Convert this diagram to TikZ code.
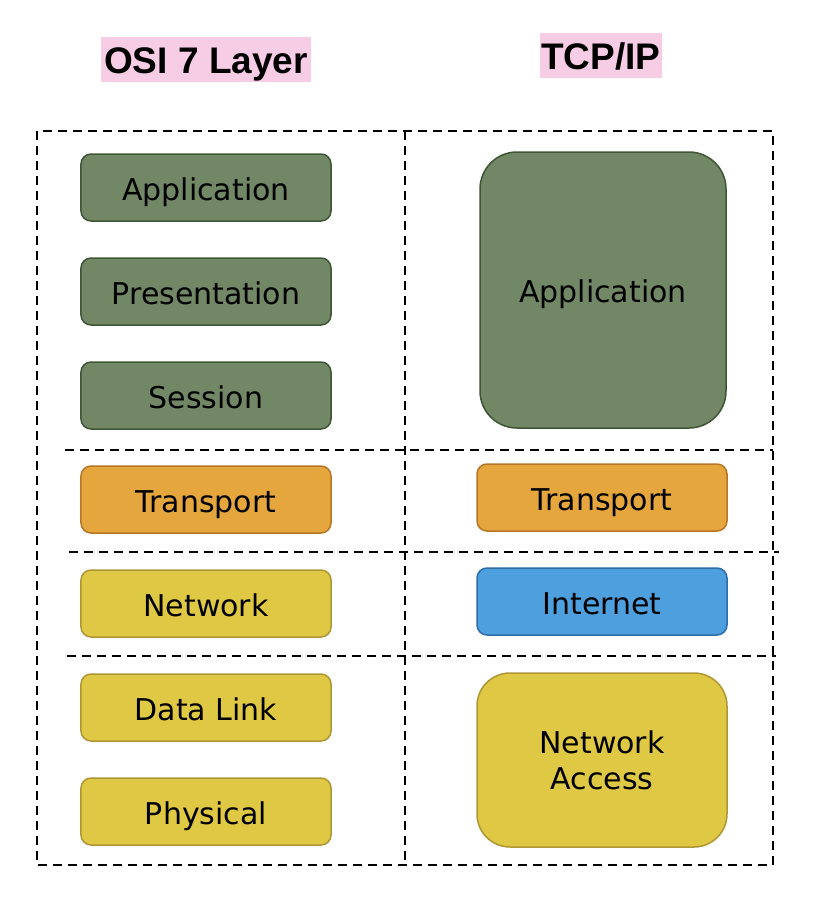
\documentclass[tikz,border=0pt]{standalone}
\usepackage{fontspec}
\setmainfont{DejaVu Sans}
\newfontfamily\titlefont{Liberation Sans}
\definecolor{grfill}{RGB}{114,135,101}
\definecolor{grline}{RGB}{63,86,54}
\definecolor{orfill}{RGB}{229,166,61}
\definecolor{orline}{RGB}{182,118,40}
\definecolor{yefill}{RGB}{223,201,68}
\definecolor{yeline}{RGB}{175,150,53}
\definecolor{blfill}{RGB}{77,159,222}
\definecolor{blline}{RGB}{45,109,168}
\definecolor{titlepink}{RGB}{247,205,230}
\begin{document}
\begin{tikzpicture}[x=1bp,y=-1bp,
  layer/.style={rectangle, rounded corners=10bp, draw, line width=1.5bp,
    minimum width=250bp, minimum height=67bp, inner sep=0pt,
    font=\fontsize{30bp}{36bp}\selectfont, text=black, align=center},
  oneline/.style={text height=31bp, text depth=6bp},
  greenbox/.style={layer, fill=grfill, draw=grline},
  orangebox/.style={layer, fill=orfill, draw=orline},
  yellowbox/.style={layer, fill=yefill, draw=yeline},
  bluebox/.style={layer, fill=blfill, draw=blline},
  titlebox/.style={rectangle, fill=titlepink, inner sep=0pt, minimum height=45bp,
    text height=32bp, text depth=4.5bp,
    font=\titlefont\bfseries\fontsize{37bp}{40bp}\selectfont},
  sep/.style={draw=black, line width=2bp, dash pattern=on 9bp off 6bp}
]
\useasboundingbox (0,0) rectangle (814,902);
\fill[white] (0,0) rectangle (814,902);

% titles
\node[titlebox, minimum width=210bp] (osititle) at (206,59.5) {OSI 7 Layer};
\node[titlebox, minimum width=122bp] (tcptitle) at (601,55.5) {TCP/IP};

% dashed frame
\draw[sep] (37,131) rectangle (773,865);
\draw[sep] (405,131) -- (405,865);
\draw[sep] (65,450) -- (773,450);
\draw[sep] (69,552) -- (779,552);
\draw[sep] (67,656) -- (776,656);

% OSI layers
\node[greenbox, oneline] (app) at (206,187.5) {Application};
\node[greenbox, oneline] (pres) at (206,291.5) {Presentation};
\node[greenbox, oneline] (sess) at (206,395.5) {Session};
\node[orangebox, oneline] (trans) at (206,499.5) {Transport};
\node[yellowbox, oneline] (net) at (206,603.5) {Network};
\node[yellowbox, oneline] (dl) at (206,707.5) {Data Link};
\node[yellowbox, oneline] (phy) at (206,811.5) {Physical};

% TCP/IP layers
\node[greenbox, oneline, rounded corners=37bp, minimum width=246bp, minimum height=276bp] (tapp) at (603,290) {Application};
\node[orangebox, oneline] (ttrans) at (602,497.5) {Transport};
\node[bluebox, oneline] (tinet) at (602,601.5) {Internet};
\node[yellowbox, rounded corners=33bp, minimum height=174bp] (tna) at (602,760) {Network\\Access};
\end{tikzpicture}
\end{document}
